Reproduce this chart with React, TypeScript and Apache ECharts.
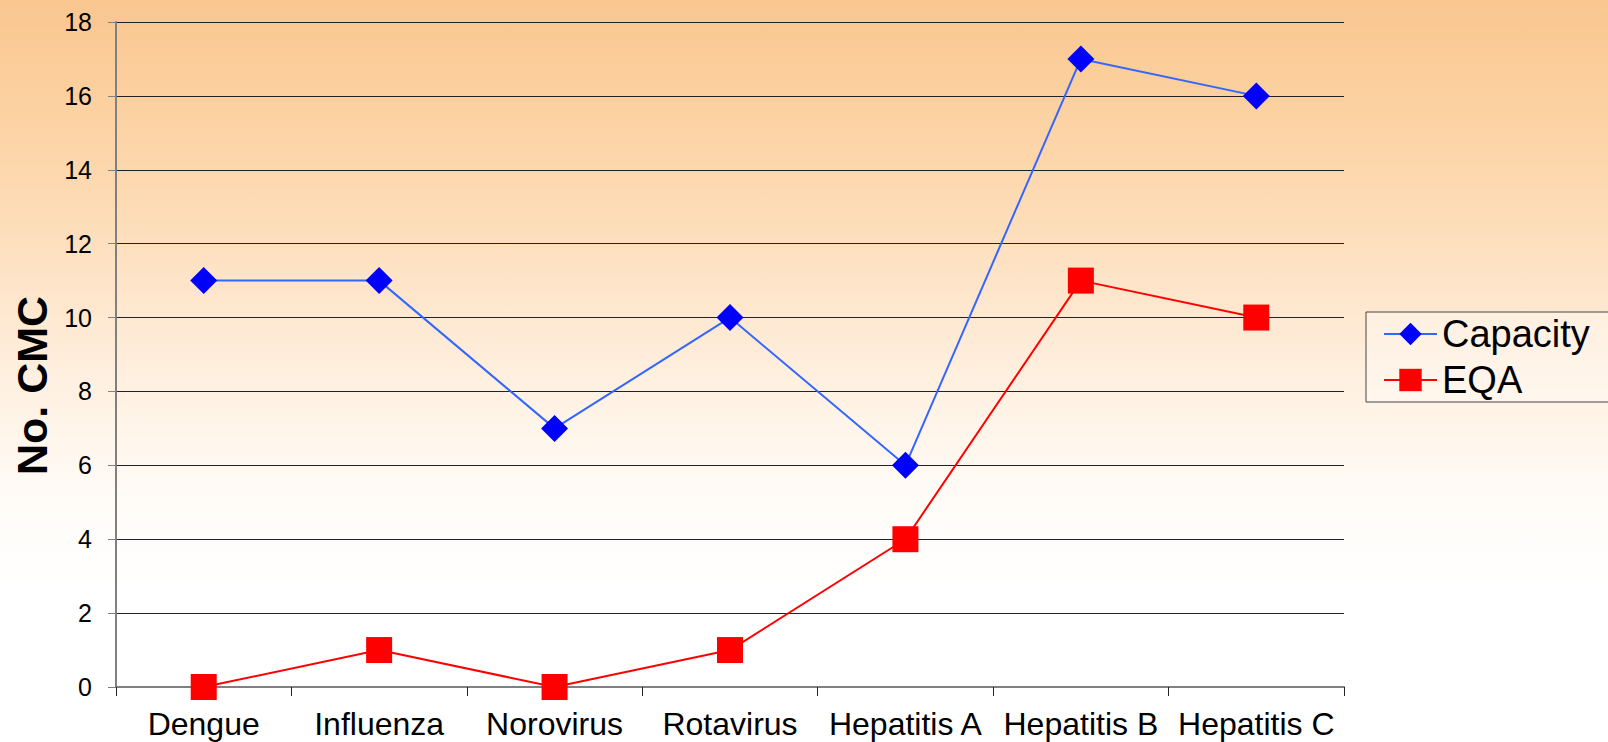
import React, { useEffect, useRef } from "react";
import * as echarts from "echarts";

const categories = ["Dengue", "Influenza", "Norovirus", "Rotavirus", "Hepatitis A", "Hepatitis B", "Hepatitis C"];
const capacityValues = [11, 11, 7, 10, 6, 17, 16];
const eqaValues = [0, 1, 0, 1, 4, 11, 10];
const yMin = 0;
const yMax = 18;
const yInterval = 2;
const yAxisTitle = "No. CMC";
const seriesNames = ["Capacity", "EQA"];

const FONT = "'Liberation Sans', Arial, Helvetica, sans-serif";

export default function App() {
  const ref = useRef<HTMLDivElement>(null);

  useEffect(() => {
    document.body.style.margin = "0";
    if (!ref.current) return;
    const chart = echarts.init(ref.current, null, { renderer: "svg" });
    chart.setOption({
      animation: false,
      backgroundColor: new echarts.graphic.LinearGradient(0, 0, 0, 1, [
        { offset: 0, color: "#F9C68F" },
        { offset: 0.1, color: "#FBCE9B" },
        { offset: 0.25, color: "#FDD9B0" },
        { offset: 0.4, color: "#FEE6CC" },
        { offset: 0.55, color: "#FFF3E6" },
        { offset: 0.68, color: "#FFFCF8" },
        { offset: 0.8, color: "#FFFFFF" },
        { offset: 1, color: "#FFFFFF" },
      ]),
      grid: { left: 116, right: 264, top: 22, bottom: 55, containLabel: false },
      legend: {
        orient: "vertical",
        left: 1366,
        top: 312,
        padding: [3, 60, 3, 17],
        itemGap: 8,
        itemWidth: 53,
        itemHeight: 28,
        borderColor: "#444",
        borderWidth: 1,
        backgroundColor: "rgba(255,255,255,0.35)",
        textStyle: { color: "#000", fontSize: 38, lineHeight: 36, fontFamily: FONT },
        data: seriesNames,
      },
      xAxis: {
        type: "category",
        data: categories,
        boundaryGap: true,
        axisLine: { show: true, lineStyle: { color: "#808080", width: 2 } },
        axisTick: { show: true, length: 9, lineStyle: { color: "#222", width: 1 }, alignWithLabel: false },
        axisLabel: { interval: 0, color: "#000", fontSize: 32, fontFamily: FONT, margin: 21 },
        splitLine: { show: false },
      },
      yAxis: {
        type: "value",
        min: yMin,
        max: yMax,
        interval: yInterval,
        name: yAxisTitle,
        nameLocation: "middle",
        nameGap: 63,
        nameTextStyle: {
          color: "#000",
          fontSize: 43,
          fontWeight: "bold",
          fontFamily: FONT,
          padding: [0, 62, 0, 0],
        },
        axisLine: { show: true, lineStyle: { color: "#808080", width: 2 } },
        axisTick: { show: true, length: 8, lineStyle: { color: "#808080", width: 1 } },
        axisLabel: { color: "#000", fontSize: 25, fontFamily: FONT, margin: 24 },
        splitLine: { show: true, lineStyle: { color: "#222", width: 1 } },
      },
      series: [
        {
          name: seriesNames[0],
          type: "line",
          data: capacityValues,
          symbol: "diamond",
          symbolSize: 27,
          lineStyle: { color: "#3366FF", width: 2 },
          itemStyle: { color: "#0000FF" },
          z: 3,
        },
        {
          name: seriesNames[1],
          type: "line",
          data: eqaValues,
          symbol: "rect",
          symbolSize: 26,
          lineStyle: { color: "#FF0000", width: 2 },
          itemStyle: { color: "#FF0000" },
          z: 2,
        },
      ],
    });
    return () => chart.dispose();
  }, []);

  return (
    <div
      ref={ref}
      style={{ position: "fixed", left: 0, top: 0, width: 1608, height: 742 }}
    />
  );
}
